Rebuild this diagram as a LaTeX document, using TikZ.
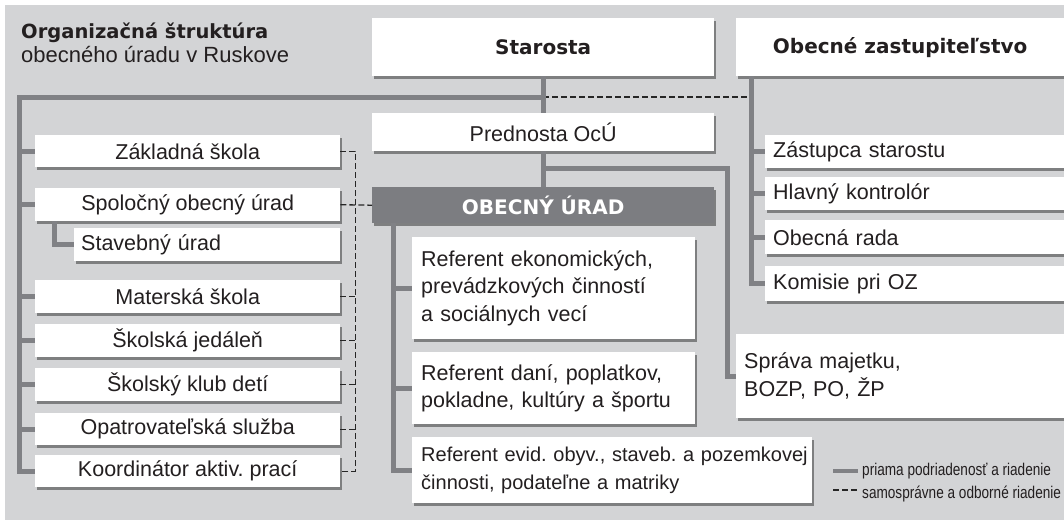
\documentclass[tikz,border=0pt]{standalone}
\usepackage{fontspec}
\setmainfont{Liberation Sans}
\newfontfamily\headfont{DejaVu Sans}
\newfontfamily\legendfont[FakeStretch=0.8]{Liberation Sans}
\usetikzlibrary{shadows}
\frenchspacing

\definecolor{bggray}{RGB}{211,212,214}
\definecolor{linegray}{RGB}{128,129,133}
\definecolor{ougray}{RGB}{124,125,129}
\definecolor{txt}{RGB}{35,31,32}

\tikzset{
  box/.style={fill=white, anchor=north west, inner sep=0pt, text=txt,
    font=\fontsize{21.5}{27.5}\selectfont,
    drop shadow={shadow xshift=2pt, shadow yshift=-3pt, fill=black, opacity=0.4}},
  cbox/.style={box, align=center},
  lbox/.style={box, align=left, inner xsep=8pt},
  headbox/.style={box, align=center, font=\headfont\bfseries\fontsize{20}{24}\selectfont},
  sub/.style={draw=linegray, line width=5pt},
  selfgov/.style={draw=black!85, line width=1.3pt, dash pattern=on 6pt off 3pt},
  legend/.style={anchor=base west, inner sep=0pt, text=txt, font=\legendfont\fontsize{17}{20}\selectfont}
}

\begin{document}
\begin{tikzpicture}[x=1pt, y=-1pt]
\useasboundingbox (0,0) rectangle (1064,520);
% background
\fill[bggray] (5,5) rectangle (1064,520);

% title
\node[anchor=base west, inner sep=0pt, text=txt, font=\headfont\bfseries\fontsize{19.5}{23}\selectfont] (title) at (21,38) {Organizačná štruktúra};
\node[anchor=base west, inner sep=0pt, text=txt, font=\fontsize{22}{26}\selectfont] (subtitle) at (21,62) {obecného úradu v Ruskove};

% top level
\node[headbox, minimum width=342pt, minimum height=58pt] (starosta) at (372,18) {Starosta};
\node[headbox, minimum width=328pt, minimum height=58pt] (oz) at (736,18) {Obecné zastupiteľstvo};
\node[cbox, minimum width=342pt, minimum height=38pt] (prednosta) at (372,113) {Prednosta OcÚ};
\node[headbox, fill=ougray, text=white, minimum width=342pt, minimum height=36pt] (obecny) at (372,187) {OBECNÝ ÚRAD};

% left column
\node[cbox, minimum width=305pt, minimum height=32pt] (zakladna) at (35,135) {Základná škola};
\node[cbox, minimum width=305pt, minimum height=33pt] (spolocny) at (35,188) {Spoločný obecný úrad};
\node[lbox, inner xsep=7pt, text width=252pt, minimum height=33pt] (stavebny) at (74,228) {Stavebný úrad};
\node[cbox, minimum width=305pt, minimum height=33pt] (materska) at (35,280) {Materská škola};
\node[cbox, minimum width=305pt, minimum height=33pt] (jedalen) at (35,324) {Školská jedáleň};
\node[cbox, minimum width=305pt, minimum height=33pt] (klub) at (35,368) {Školský klub detí};
\node[cbox, minimum width=305pt, minimum height=32pt] (opatr) at (35,413) {Opatrovateľská služba};
\node[cbox, minimum width=305pt, minimum height=32pt] (koord) at (35,455) {Koordinátor aktiv. prací};

% zastupitelstvo
\node[lbox, text width=283pt, minimum height=33pt] (zastupca) at (765,135) {Zástupca starostu};
\node[lbox, text width=283pt, minimum height=33pt] (kontrolor) at (765,177) {Hlavný kontrolór};
\node[lbox, text width=283pt, minimum height=34pt] (rada) at (765,220) {Obecná rada};
\node[lbox, text width=283pt, minimum height=35pt] (komisie) at (765,266) {Komisie pri OZ};

% obecny urad
\node[lbox, inner xsep=9pt, text width=265pt, minimum height=102pt] (ekonom) at (412,237) {Referent ekonomických,\\prevádzkových činností\\a sociálnych vecí};
\node[lbox, inner xsep=9pt, text width=265pt, minimum height=72pt] (dane) at (412,352) {Referent daní, poplatkov,\\pokladne, kultúry a športu};
\node[lbox, inner xsep=9pt, text width=382pt, minimum height=66pt, font=\fontsize{20}{27.5}\selectfont] (evid) at (412,437) {\mbox{Referent evid. obyv., staveb. a pozemkovej}\\\mbox{činnosti, podateľne a matriky}};
\node[lbox, text width=312pt, minimum height=84pt] (sprava) at (736,334) {Správa majetku,\\BOZP, PO, ŽP};

% spines
\coordinate (lspine) at (19,97);
\coordinate (ozspine) at ([xshift=15pt]oz.south west);
\coordinate (ouspine) at ([xshift=21pt]obecny.south west);
\coordinate (dspine) at ([xshift=15pt]zakladna.east);

% samospravne a odborne riadenie
\draw[selfgov] (starosta.south |- lspine) -- (ozspine |- lspine);
\draw[selfgov] (zakladna.east) -- (dspine) |- (koord.east);
\foreach \n in {materska,jedalen,klub,opatr}
  \draw[selfgov] (\n.east) -- (dspine |- \n.east);
\draw[selfgov] (spolocny.east) -- (obecny.west);

% priama podriadenost
\draw[sub] (starosta.south) -- (prednosta.north);
\draw[sub] (starosta.south |- lspine) -- (lspine) |- (koord.west);
\foreach \n in {zakladna,spolocny,materska,jedalen,klub,opatr}
  \draw[sub] (lspine |- \n.west) -- (\n.west);
\draw[sub] ([xshift=19pt]spolocny.south west) |- (stavebny.west);

\draw[sub] (ozspine) |- (komisie.west);
\foreach \n in {zastupca,kontrolor,rada}
  \draw[sub] (ozspine |- \n.west) -- (\n.west);

\draw[sub] (prednosta.south) -- (obecny.north);
\draw[sub] ([yshift=-17pt]prednosta.south) -| ([xshift=-9pt]sprava.west) -- (sprava.west);

\draw[sub] (ouspine) |- (evid.west);
\foreach \n in {ekonom,dane}
  \draw[sub] (ouspine |- \n.west) -- (\n.west);

% legend
\node[legend] (legsub) at (862,475) {priama podriadenosť a riadenie};
\node[legend] (legself) at (862,498) {samosprávne a odborné riadenie};
\draw[sub, line width=4.5pt] (833,471) -- (858,471);
\draw[selfgov] (833,490) -- (858,490);
\end{tikzpicture}
\end{document}
